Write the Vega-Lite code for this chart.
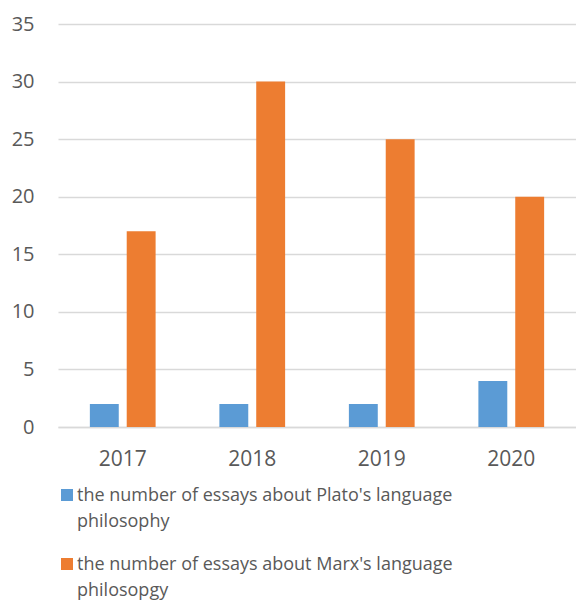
{
  "$schema": "https://vega.github.io/schema/vega-lite/v6.json",
  "autosize": {"type": "none"},
  "padding": {"left": 58, "top": 24, "right": 0, "bottom": 177},
  "width": 518,
  "height": 403,
  "background": "white",
  "config": {
    "font": "Open Sans",
    "view": {"stroke": null}
  },
  "data": {
    "values": [
      {"year": "2017", "series": "the number of essays about Plato's language philosophy", "count": 2},
      {"year": "2017", "series": "the number of essays about Marx's language philosopgy", "count": 17},
      {"year": "2018", "series": "the number of essays about Plato's language philosophy", "count": 2},
      {"year": "2018", "series": "the number of essays about Marx's language philosopgy", "count": 30},
      {"year": "2019", "series": "the number of essays about Plato's language philosophy", "count": 2},
      {"year": "2019", "series": "the number of essays about Marx's language philosopgy", "count": 25},
      {"year": "2020", "series": "the number of essays about Plato's language philosophy", "count": 4},
      {"year": "2020", "series": "the number of essays about Marx's language philosopgy", "count": 20}
    ]
  },
  "mark": {"type": "bar"},
  "encoding": {
    "x": {
      "field": "year",
      "type": "nominal",
      "title": null,
      "scale": {"paddingInner": 0.4923, "paddingOuter": 0.246},
      "axis": {
        "labelAngle": 0,
        "labelFontSize": 21,
        "labelColor": "#595959",
        "labelPadding": 21,
        "ticks": false,
        "domainColor": "#d9d9d9",
        "domainWidth": 1.5,
        "grid": false
      }
    },
    "xOffset": {
      "field": "series",
      "type": "nominal",
      "sort": null,
      "scale": {"paddingInner": 0.216, "paddingOuter": 0}
    },
    "y": {
      "field": "count",
      "type": "quantitative",
      "title": null,
      "scale": {"domain": [0, 35], "nice": false},
      "axis": {
        "values": [0, 5, 10, 15, 20, 25, 30, 35],
        "labelFontSize": 20,
        "labelColor": "#595959",
        "labelPadding": 24,
        "ticks": false,
        "domain": false,
        "gridColor": "#d9d9d9",
        "gridWidth": 1.5
      }
    },
    "color": {
      "field": "series",
      "type": "nominal",
      "sort": null,
      "scale": {
        "domain": [
          "the number of essays about Plato's language philosophy",
          "the number of essays about Marx's language philosopgy"
        ],
        "range": ["#5B9BD5", "#ED7D31"]
      },
      "legend": {
        "title": null,
        "orient": "none",
        "direction": "vertical",
        "legendX": 0,
        "legendY": 462,
        "symbolType": "square",
        "symbolSize": 144,
        "symbolStrokeWidth": 0,
        "labelFontSize": 18,
        "labelColor": "#595959",
        "labelLimit": 600,
        "labelOffset": 1,
        "labelBaseline": "alphabetic",
        "rowPadding": 24,
        "labelExpr": "[slice(datum.label, 0, lastindexof(datum.label, ' ')), slice(datum.label, lastindexof(datum.label, ' ') + 1)]",
        "encode": {
          "labels": {
            "update": {
              "dy": {"value": 5.5},
              "lineHeight": {"value": 26}
            }
          }
        }
      }
    }
  }
}
